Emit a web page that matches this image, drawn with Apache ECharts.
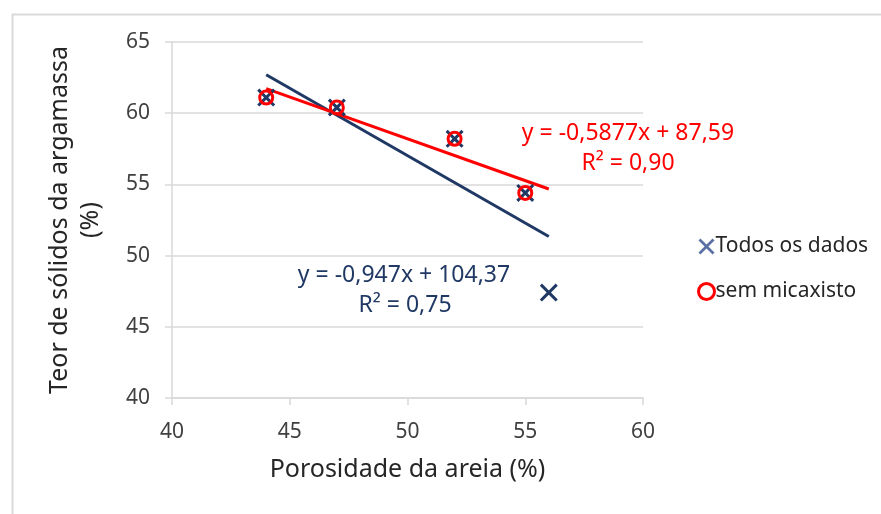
<!DOCTYPE html>
<html>
<head>
<meta charset="utf-8">
<script src="https://cdn.jsdelivr.net/npm/echarts@6/dist/echarts.min.js"></script>
<style>
html,body{margin:0;padding:0;background:#fff;}
#chart{width:881px;height:514px;}
</style>
</head>
<body>
<div id="chart"></div>
<script>
// ---- data ----
var porosidadeTodos = [44, 47, 52, 55, 56];
var teorTodos = [61.1, 60.4, 58.2, 54.4, 47.4];
var porosidadeSem = [44, 47, 52, 55];
var teorSem = [61.1, 60.4, 58.2, 54.4];
var trendTodos = [-0.947, 104.37];   // slope, intercept
var trendSem = [-0.5877, 87.59];
var trendRange = [44, 56];
var xTicks = [40, 45, 50, 55, 60];
var yTicks = [40, 45, 50, 55, 60, 65];
var seriesNames = ['Todos os dados', 'sem micaxisto'];
var eqTodos = ['y = -0,947x + 104,37', 'R² = 0,75'];
var eqSem = ['y = -0,5877x + 87,59', 'R² = 0,90'];

var FONT = 'Noto Sans';
var NAVY = '#1f3864';
var RED = '#ff0000';
var XPATH = 'path://M0,1.2 L1.2,0 L5,3.8 L8.8,0 L10,1.2 L6.2,5 L10,8.8 L8.8,10 L5,6.2 L1.2,10 L0,8.8 L3.8,5 Z';

function pairs(xs, ys) { return xs.map(function (x, i) { return [x, ys[i]]; }); }
function trend(c) { return trendRange.map(function (x) { return [x, c[0] * x + c[1]]; }); }

var chart = echarts.init(document.getElementById('chart'), null, { renderer: 'canvas' });
chart.setOption({
  backgroundColor: '#fff',
  animation: false,
  textStyle: { fontFamily: FONT },
  grid: { left: 172, right: 238, top: 42, bottom: 116 },
  xAxis: {
    type: 'value', min: xTicks[0], max: xTicks[xTicks.length - 1], interval: 5,
    name: 'Porosidade da areia (%)', nameLocation: 'middle', nameGap: 59,
    nameTextStyle: { fontSize: 25, color: '#262626', fontFamily: FONT },
    axisLine: { show: true, lineStyle: { color: '#d9d9d9', width: 1.5 } },
    axisTick: { show: true, inside: false, length: 7, lineStyle: { color: '#d9d9d9', width: 1.5 } },
    axisLabel: { fontSize: 21, color: '#404040', margin: 24, fontFamily: FONT },
    splitLine: { show: false }
  },
  yAxis: {
    type: 'value', min: yTicks[0], max: yTicks[yTicks.length - 1], interval: 5,
    name: 'Teor de sólidos da argamassa\n(%)', nameLocation: 'middle', nameGap: 66, nameRotate: 90,
    nameTextStyle: { fontSize: 25, color: '#262626', lineHeight: 31, fontFamily: FONT },
    axisLine: { show: true, lineStyle: { color: '#d9d9d9', width: 1.5 } },
    axisTick: { show: true, inside: false, length: 7, lineStyle: { color: '#d9d9d9', width: 1.5 } },
    axisLabel: { fontSize: 21, color: '#404040', margin: 22, fontFamily: FONT },
    splitLine: { show: true, lineStyle: { color: '#d9d9d9', width: 1.5 } }
  },
  legend: {
    orient: 'vertical', left: 692, top: 231, itemGap: 24, itemWidth: 16, itemHeight: 16,
    textStyle: { fontSize: 21, color: '#262626', fontFamily: FONT, padding: [0, 0, 0, -4] },
    data: [
      { name: seriesNames[0], icon: XPATH, itemStyle: { color: '#5a6fa3' } },
      { name: seriesNames[1], icon: 'circle', itemStyle: { color: '#fff', borderColor: RED, borderWidth: 3 } }
    ]
  },
  series: [
    {
      type: 'line', data: trend(trendTodos), symbol: 'none', silent: true,
      lineStyle: { color: NAVY, width: 3 }, z: 2
    },
    {
      type: 'line', data: trend(trendSem), symbol: 'none', silent: true,
      lineStyle: { color: RED, width: 3 }, z: 3
    },
    {
      name: seriesNames[0], type: 'scatter', data: pairs(porosidadeTodos, teorTodos),
      symbol: XPATH, symbolSize: 18, itemStyle: { color: NAVY, opacity: 1 }, z: 4
    },
    {
      name: seriesNames[1], type: 'scatter', data: pairs(porosidadeSem, teorSem),
      symbol: 'circle', symbolSize: 13,
      itemStyle: { color: 'rgba(0,0,0,0)', borderColor: RED, borderWidth: 3, opacity: 1 }, z: 5
    }
  ],
  graphic: [
    { type: 'rect', left: 10, top: 12, shape: { width: 1000, height: 1000 },
      style: { fill: 'none', stroke: '#d9d9d9', lineWidth: 2 }, silent: true, z: -10 },
    { type: 'text', x: 628, y: 133, style: { text: eqSem[0], fill: RED, font: '23px "' + FONT + '"', textAlign: 'center', textVerticalAlign: 'middle' } },
    { type: 'text', x: 628, y: 163, style: { text: eqSem[1], fill: RED, font: '23px "' + FONT + '"', textAlign: 'center', textVerticalAlign: 'middle' } },
    { type: 'text', x: 404, y: 275, style: { text: eqTodos[0], fill: NAVY, font: '23px "' + FONT + '"', textAlign: 'center', textVerticalAlign: 'middle' } },
    { type: 'text', x: 405, y: 305, style: { text: eqTodos[1], fill: NAVY, font: '23px "' + FONT + '"', textAlign: 'center', textVerticalAlign: 'middle' } }
  ]
});
</script>
</body>
</html>
